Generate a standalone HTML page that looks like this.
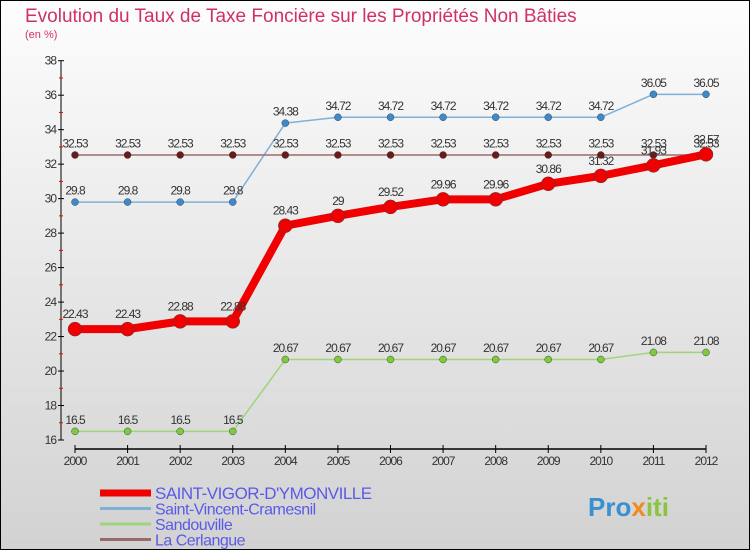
<!DOCTYPE html>
<html><head><meta charset="utf-8"><style>
body{margin:0}
#c{width:750px;height:550px;position:relative;overflow:hidden;background:linear-gradient(#fdfdfd,#d2d2d2);font-family:"Liberation Sans",sans-serif;box-sizing:border-box;border:1px solid #000}
</style></head><body>
<div id="c">
<svg id="s" width="750" height="550" style="position:absolute;left:-1px;top:-1px">
<text x="25" y="22" font-size="19" fill="#d0306a">Evolution du Taux de Taxe Foncière sur les Propriétés Non Bâties</text>
<text x="25" y="38" font-size="11" fill="#d0306a">(en %)</text>
<text x="588" y="516" font-size="26" font-weight="bold" fill="#3a8fd0">Pro<tspan fill="#f08a1c">x</tspan><tspan fill="#8bc53f">iti</tspan></text>
</svg>
</div>
<script>
const years=[2000,2001,2002,2003,2004,2005,2006,2007,2008,2009,2010,2011,2012];
const yTicks=[16,18,20,22,24,26,28,30,32,34,36,38];
const saintVigor=[22.43,22.43,22.88,22.88,28.43,29,29.52,29.96,29.96,30.86,31.32,31.93,32.57];
const saintVincent=[29.8,29.8,29.8,29.8,34.38,34.72,34.72,34.72,34.72,34.72,34.72,36.05,36.05];
const sandouville=[16.5,16.5,16.5,16.5,20.67,20.67,20.67,20.67,20.67,20.67,20.67,21.08,21.08];
const laCerlangue=[32.53,32.53,32.53,32.53,32.53,32.53,32.53,32.53,32.53,32.53,32.53,32.53,32.53];
const names=["SAINT-VIGOR-D'YMONVILLE","Saint-Vincent-Cramesnil","Sandouville","La Cerlangue"];
const s=document.getElementById('s');const NS='http://www.w3.org/2000/svg';
const X=i=>75+i*(706-75)/(years.length-1);
const Y=v=>440-(v-16)*(440-60.7)/22;
function el(t,a,txt){const e=document.createElementNS(NS,t);for(const k in a)e.setAttribute(k,a[k]);if(txt!==undefined)e.textContent=txt;s.appendChild(e);return e;}
let ax=el('line',{x1:61,y1:Y(38),x2:61,y2:Y(16),stroke:'#000','stroke-width':1});


let xa=el('line',{x1:X(0),y1:449,x2:X(12),y2:449,stroke:'#000','stroke-width':1.5});


yTicks.forEach(v=>{
 el('line',{x1:58,y1:Y(v),x2:64,y2:Y(v),stroke:'#000'});
 if(v<38)el('line',{x1:59,y1:Y(v+1),x2:63,y2:Y(v+1),stroke:'#e00'});
 const t=el('text',{x:56,y:Y(v)+4,'font-size':12,'text-anchor':'end',fill:'#333','letter-spacing':'-1'},String(v));
 
 
});
years.forEach((y,i)=>{
 el('line',{x1:X(i),y1:445,x2:X(i),y2:453,stroke:'#000'});
 const t=el('text',{x:X(i),y:465,'font-size':12,'text-anchor':'middle',fill:'#333','letter-spacing':'-1'},String(y));
 
 
});
function series(data,color,dot,w,r,name){
 const p=el('polyline',{points:data.map((v,i)=>X(i)+','+Y(v)).join(' '),fill:'none',stroke:color,'stroke-width':w,'stroke-linejoin':'round'});
 
 
 data.forEach((v,i)=>{
  const c=el('circle',{cx:X(i),cy:Y(v),r:r,fill:dot,stroke:'#444','stroke-width':0.5});
  
  
  const t=el('text',{x:X(i),y:Y(v)-r-4,'font-size':12,'text-anchor':'middle',fill:'#333','letter-spacing':'-1'},String(v));
  
  
 });
}
series(sandouville,'#9fd47a','#7ccc3a',1.5,3.5,'sandouville');
series(saintVincent,'#7fb0d8','#3a8ad0',1.5,3.5,'saint-vincent-cramesnil');
series(laCerlangue,'#9a6a6a','#6a1a1a',1.5,3.5,'la-cerlangue');
series(saintVigor,'#f00000','#f00000',8,7,'saint-vigor');
const lc=['#f00000','#7fb0d8','#9fd47a','#9a6a6a'],lw=[7,3,3,3];
names.forEach((n,i)=>{
 const y=493+i*15.5;
 const l=el('line',{x1:100,y1:y,x2:151,y2:y,stroke:lc[i],'stroke-width':lw[i]});
 
 
 const t=el('text',{x:155,y:y+6,'font-size':i==0?17:16,fill:'#5a5ae8','letter-spacing':'-0.5'},n);
 
 
});
</script>
</body></html>
